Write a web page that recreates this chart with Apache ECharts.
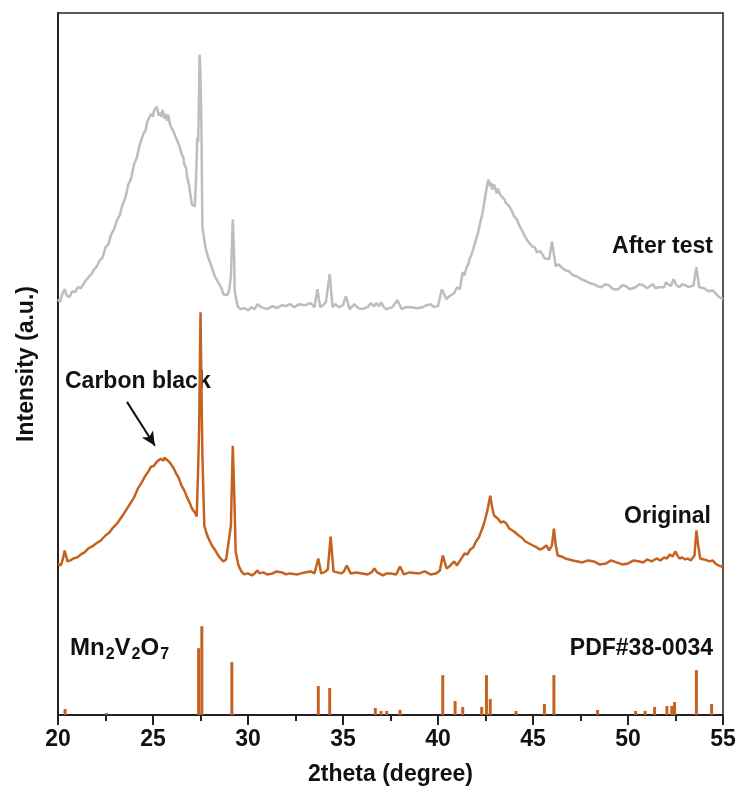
<!DOCTYPE html>
<html>
<head>
<meta charset="utf-8">
<script src="https://cdn.jsdelivr.net/npm/echarts@6/dist/echarts.min.js"></script>
<style>
html,body{margin:0;padding:0;background:#fff;}
#chart{width:741px;height:791px;}
</style>
</head>
<body>
<div id="chart"></div>
<script>
// x tick labels
const xTicks = [20, 25, 30, 35, 40, 45, 50, 55];

// "After test" pattern: [2theta, intensity (a.u., offset-stacked)]
const afterTest = [
  [20.0,417],[20.1,414],[20.2,421],[20.35,427],[20.45,421],[20.6,419],[20.75,425],[20.9,424],[21.05,429],[21.2,428],[21.4,434],[21.6,439],[21.75,442],[21.9,447],
  [22.05,450],[22.2,456],[22.35,459],[22.5,469],[22.65,472],[22.8,482],[22.95,487],[23.1,496],[23.25,501],[23.4,512],[23.55,519],[23.7,532],[23.85,538],[24.0,552],[24.15,559],[24.3,572],[24.4,574],[24.5,583],
  [24.6,586],[24.7,595],[24.8,597],[24.9,603],[25.0,600],[25.05,606],[25.15,604],[25.2,610],[25.3,601],[25.35,604],[25.45,600],[25.5,607],[25.6,598],[25.65,603],[25.75,596],[25.8,602],[25.9,592],[26.0,593],
  [26.1,584],[26.15,585],[26.25,577],[26.3,575],[26.4,570],[26.5,563],[26.6,559],[26.65,552],[26.75,548],[26.8,539],[26.9,531],[26.95,524],[27.05,512],[27.2,510],[27.28,545],
  [27.33,579],[27.38,575],[27.42,620],[27.45,662],[27.5,640],[27.55,589],[27.6,489],[27.75,470],[27.9,459],
  [28.1,449],[28.25,440],[28.4,435],[28.6,428],[28.7,422],[28.8,424],[28.9,421],[29.0,425],[29.1,440],[29.2,497],[29.27,460],[29.3,425],
  [29.45,410],[29.6,407],[29.8,408],[30.0,406],[30.2,409],[30.35,407],[30.5,412],[30.7,409],[31.0,407],[31.3,410],[31.5,408],[31.8,411],[32.0,410],[32.2,412],[32.45,409],[32.7,412],[33.0,411],[33.3,413],
  [33.5,409],[33.65,427],[33.8,409],[33.95,411],[34.1,414],[34.3,442],[34.45,409],[34.6,412],[34.8,409],[35.0,411],[35.15,420],[35.35,407],
  [35.6,412],[35.8,408],[36.0,407],[36.3,409],[36.45,413],[36.55,415],[36.65,410],[36.75,413],[36.9,410],[37.0,414],[37.15,409],[37.3,407],[37.6,409],[37.85,416],
  [38.1,407],[38.3,409],[38.6,409],[38.9,408],[39.2,409],[39.4,411],[39.6,412],[39.8,409],[40.0,410],[40.2,427],[40.45,417],[40.6,420],[40.7,421],[40.85,423],[41.0,429],
  [41.15,427],[41.3,444],[41.4,441],[41.5,449],[41.6,452],[41.65,457],[41.75,461],[41.85,467],[42.0,477],[42.1,483],[42.2,492],[42.35,504],[42.5,522],
  [42.65,537],[42.75,530],[42.8,534],[42.85,527],[42.95,532],[43.0,530],[43.1,523],[43.15,528],[43.2,525],[43.3,521],[43.4,520],[43.5,517],[43.55,514],[43.65,515],[43.75,510],[43.9,505],
  [44.0,500],[44.15,497],[44.3,490],[44.45,485],[44.55,481],[44.7,476],[44.8,474],[44.95,470],[45.1,469],[45.2,464],[45.3,462],[45.4,465],[45.5,462],[45.6,458],[45.7,458],[45.85,457],
  [46.0,475],[46.1,462],[46.2,450],[46.35,452],[46.5,449],[46.7,446],[46.9,445],[47.1,441],[47.3,440],[47.55,437],[47.8,435],[48.0,433],[48.2,432],[48.4,430],[48.6,429],
  [48.8,432],[49.0,431],[49.2,427],[49.5,427],[49.7,431],[49.9,430],[50.1,427],[50.4,429],[50.6,432],[50.8,431],[51.0,428],[51.3,432],[51.45,428],[51.6,429],[51.9,429],[52.0,434],[52.1,433],
  [52.25,430],[52.4,437],[52.55,431],[52.7,429],[52.85,432],[53.0,431],[53.2,429],[53.45,431],[53.6,449],[53.75,429],[54.0,428],
  [54.15,426],[54.3,425],[54.45,426],[54.6,423],[54.8,419],[55.0,417]
];

// "Original" pattern
const original = [
  [20.0,152],[20.15,150],[20.25,156],[20.35,165],[20.5,154],[20.65,155],[20.8,157],[21.0,158],[21.2,161],[21.4,163],[21.6,167],[21.8,169],[22.0,172],[22.25,175],[22.5,180],
  [22.7,183],[22.9,188],[23.15,193],[23.4,200],[23.6,206],[23.8,212],[24.0,218],[24.2,227],[24.4,233],[24.6,240],[24.75,244],[24.9,249],[25.05,250],[25.2,254],[25.3,252],[25.4,257],[25.55,255],
  [25.6,258],[25.7,256],[25.85,254],[26.0,250],[26.1,247],[26.25,241],[26.35,238],[26.5,230],[26.65,225],[26.8,218],[26.95,212],[27.05,207],[27.2,203],[27.3,199],[27.38,250],[27.43,290],
  [27.5,404],[27.55,330],[27.6,260],[27.7,190],[27.8,183],[27.9,178],[28.0,174],[28.1,170],[28.25,166],[28.4,161],[28.55,157],[28.7,154],[28.85,156],[28.95,157],
  [29.1,190],[29.2,270],[29.28,220],[29.35,164],[29.5,150],[29.65,144],[29.8,141],[30.0,142],[30.2,140],[30.35,142],[30.5,145],[30.6,142],[30.8,143],[31.0,141],[31.3,142],
  [31.5,144],[31.8,143],[32.0,141],[32.2,142],[32.6,141],[33.0,143],[33.3,144],[33.5,142],[33.7,157],[33.85,142],[34.0,143],[34.2,146],[34.35,179],[34.5,144],
  [34.7,143],[34.9,142],[35.05,144],[35.2,150],[35.4,142],[35.7,143],[36.0,142],[36.3,141],[36.5,143],[36.65,147],[36.8,143],[36.9,145],[37.1,140],[37.3,142],[37.5,142],
  [37.8,141],[38.0,149],[38.2,141],[38.5,143],[39.0,142],[39.3,144],[39.6,141],[39.9,142],[40.1,145],[40.25,160],[40.45,147],[40.6,149],[40.85,154],[41.0,150],[41.2,156],
  [41.3,158],[41.4,162],[41.55,161],[41.7,166],[41.85,168],[42.0,174],[42.15,178],[42.25,183],[42.35,188],[42.45,194],[42.6,205],[42.75,220],[42.85,208],[42.95,200],
  [43.05,198],[43.2,196],[43.3,193],[43.45,194],[43.6,192],[43.75,187],[43.85,189],[44.0,184],[44.1,185],[44.25,180],[44.4,178],[44.6,174],[44.8,172],[45.0,170],[45.2,168],[45.35,166],[45.5,167],[45.7,170],
  [45.85,165],[46.0,170],[46.1,187],[46.2,170],[46.3,160],[46.5,159],[46.7,157],[46.9,156],[47.1,155],[47.35,154],[47.6,153],[47.9,155],[48.2,154],[48.5,151],[48.85,152],
  [49.1,155],[49.4,153],[49.7,151],[50.0,152],[50.3,155],[50.6,154],[50.8,153],[51.0,156],[51.25,154],[51.5,157],[51.7,155],[51.9,158],[52.05,157],[52.2,161],[52.35,159],[52.5,164],[52.6,160],[52.7,157],
  [52.85,158],[53.0,156],[53.15,157],[53.3,155],[53.5,160],[53.6,185],[53.7,170],[53.8,157],[54.0,156],[54.15,155],[54.3,154],[54.45,155],[54.6,152],[54.75,150],[54.9,149],[55.0,148]
];

// Mn2V2O7 reference pattern (PDF#38-0034): positions and relative intensities
const refPositions = [20.37,22.55,27.4,27.57,29.15,33.7,34.3,36.7,37.0,37.3,38.0,40.25,40.9,41.3,42.3,42.55,42.75,44.1,45.6,46.1,48.4,50.4,50.9,51.4,52.05,52.3,52.45,53.6,54.4];
const refIntensity = [6,2,67,89,53,29,27,7,4,4,5,40,14,8,8,40,16,4,11,40,5,4,4,8,9,9,13,45,11];

const ORANGE = '#C5621F';
const GRAY = '#BDBDBD';
const FONT = 'Liberation Sans, Arial, sans-serif';

const chart = echarts.init(document.getElementById('chart'), null, {renderer: 'canvas'});

chart.setOption({
  backgroundColor: '#fff',
  animation: false,
  grid: {left: 58, right: 18, top: 13, bottom: 74, show: true, borderColor: '#222', borderWidth: 1.5, backgroundColor: 'transparent'},
  xAxis: {
    type: 'value', min: 20, max: 55, interval: 5,
    name: '2theta (degree)', nameLocation: 'middle', nameGap: 48,
    nameTextStyle: {fontFamily: FONT, fontWeight: 'bold', fontSize: 23, color: '#111'},
    axisLine: {show: true, lineStyle: {color: '#222', width: 2}},
    axisTick: {show: true, inside: false, length: 10, lineStyle: {color: '#222', width: 2}},
    minorTick: {show: true, splitNumber: 2, length: 6, lineStyle: {color: '#222', width: 2}},
    axisLabel: {fontFamily: FONT, fontWeight: 'bold', fontSize: 23, color: '#111', margin: 13,
      formatter: v => xTicks.indexOf(v) >= 0 ? String(v) : ''},
    splitLine: {show: false}
  },
  yAxis: {
    type: 'value', min: 0, max: 704,
    name: 'Intensity (a.u.)', nameLocation: 'middle', nameGap: 20, nameRotate: 90,
    nameTextStyle: {fontFamily: FONT, fontWeight: 'bold', fontSize: 23, color: '#111'},
    axisLine: {show: true, lineStyle: {color: '#222', width: 2}},
    axisTick: {show: false}, axisLabel: {show: false}, splitLine: {show: false}
  },
  series: [
    {
      type: 'line', name: 'After test', data: afterTest, showSymbol: false, symbol: 'none',
      lineStyle: {color: GRAY, width: 2.5}, z: 3
    },
    {
      type: 'line', name: 'Original', data: original, showSymbol: false, symbol: 'none',
      lineStyle: {color: ORANGE, width: 2.5}, z: 4,
      markLine: {
        silent: true, symbol: ['none', 'arrow'], symbolSize: [10, 14],
        lineStyle: {color: '#111', width: 2, type: 'solid'}, label: {show: false},
        data: [[{coord: [23.63, 314]}, {coord: [25.1, 270]}]]
      }
    },
    {
      type: 'bar', name: 'PDF#38-0034', data: refPositions.map((p, i) => [p, refIntensity[i]]),
      barWidth: 3, itemStyle: {color: ORANGE}, z: 2
    }
  ],
  graphic: [
    {type: 'text', right: 28, top: 235, style: {text: 'After test', fontFamily: FONT, fontWeight: 'bold', fontSize: 23, fill: '#111'}},
    {type: 'text', right: 30, top: 505, style: {text: 'Original', fontFamily: FONT, fontWeight: 'bold', fontSize: 23, fill: '#111'}},
    {type: 'text', left: 65, top: 370, style: {text: 'Carbon black', fontFamily: FONT, fontWeight: 'bold', fontSize: 23, fill: '#111'}},
    {type: 'text', right: 28, top: 637, style: {text: 'PDF#38-0034', fontFamily: FONT, fontWeight: 'bold', fontSize: 23, fill: '#111'}},
    {type: 'text', left: 70, top: 636, style: {
      text: 'Mn{s|2}V{s|2}O{s|7}', fontFamily: FONT, fontWeight: 'bold', fontSize: 24, fill: '#111',
      rich: {s: {fontFamily: FONT, fontWeight: 'bold', fontSize: 16, fill: '#111', padding: [14, 0, 0, 1], verticalAlign: 'bottom'}}
    }}
  ]
});
</script>
</body>
</html>
